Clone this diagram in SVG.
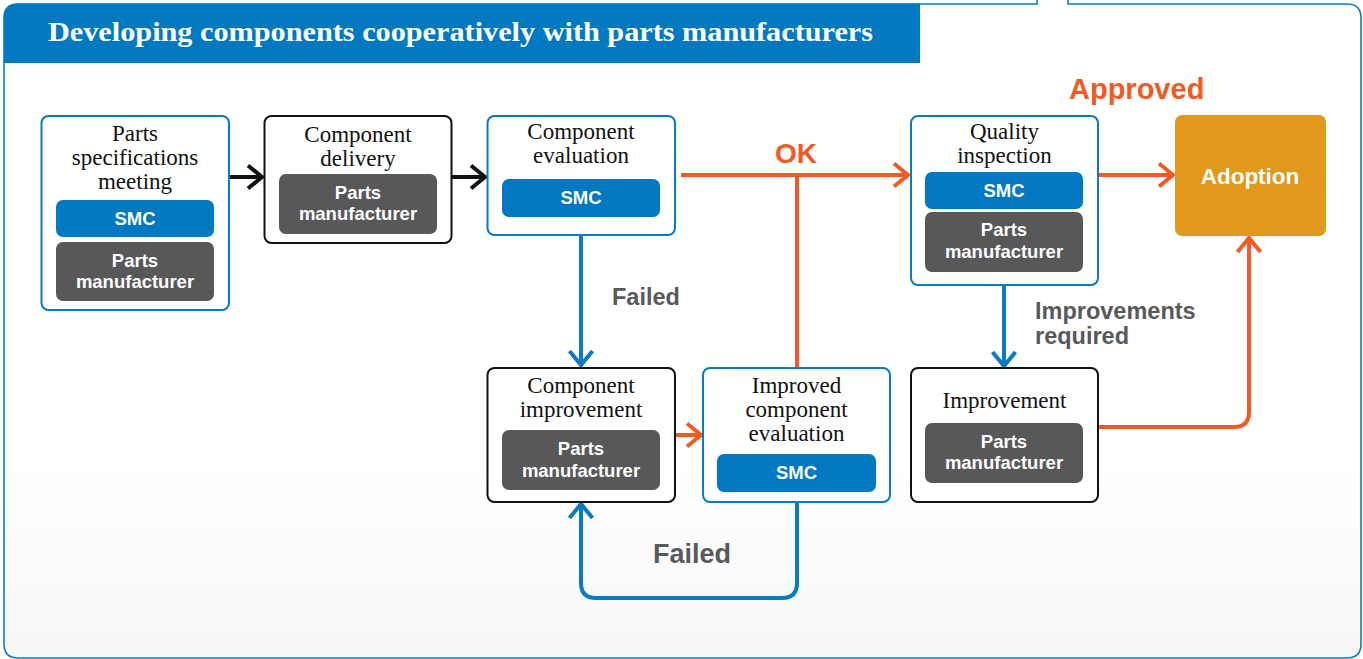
<svg xmlns="http://www.w3.org/2000/svg" width="1363" height="659" viewBox="0 0 1363 659">
  <defs>
    <linearGradient id="bg" x1="0" y1="0" x2="0" y2="1">
      <stop offset="0" stop-color="#ffffff"/>
      <stop offset="0.7" stop-color="#ffffff"/>
      <stop offset="1" stop-color="#f6f7f9"/>
    </linearGradient>
    <marker id="head-black" markerUnits="userSpaceOnUse" viewBox="0 0 20 28" markerWidth="20" markerHeight="28" refX="17" refY="14" orient="auto">
      <path d="M2,2.5 L16,14 L2,25.5" fill="none" stroke="#111111" stroke-width="4"/>
    </marker>
    <marker id="head-orange" markerUnits="userSpaceOnUse" viewBox="0 0 20 28" markerWidth="20" markerHeight="28" refX="17" refY="14" orient="auto">
      <path d="M2,2.5 L16,14 L2,25.5" fill="none" stroke="#f15a24" stroke-width="4"/>
    </marker>
    <marker id="head-blue" markerUnits="userSpaceOnUse" viewBox="0 0 20 28" markerWidth="20" markerHeight="28" refX="17" refY="14" orient="auto">
      <path d="M2,2.5 L16,14 L2,25.5" fill="none" stroke="#0a7bc2" stroke-width="4"/>
    </marker>
    <style>
      .box-blue { fill: #ffffff; stroke: #0a7bc2; stroke-width: 2; }
      .box-black { fill: #ffffff; stroke: #111111; stroke-width: 2; }
      .tag-smc { fill: #0079c2; }
      .tag-pm { fill: #58585a; }
      .title { font-family: "Liberation Serif", "Times New Roman", serif; font-size: 23px; fill: #111111; text-anchor: middle; }
      .tag { font-family: "Liberation Sans", Arial, sans-serif; font-weight: bold; font-size: 18.5px; fill: #ffffff; text-anchor: middle; }
      .tag-big { font-size: 22.5px; }
      .label-grey { font-family: "Liberation Sans", Arial, sans-serif; font-weight: bold; font-size: 23.5px; fill: #58595b; }
      .label-big { font-size: 27px; }
      .label-orange { font-family: "Liberation Sans", Arial, sans-serif; font-weight: bold; fill: #f15a24; }
      .link { fill: none; stroke-width: 4; }
      .link-black { stroke: #111111; marker-end: url(#head-black); }
      .link-orange { stroke: #f15a24; }
      .link-blue { stroke: #0a7bc2; }
    </style>
  </defs>

  <!-- panel frame with header band -->
  <path d="M18,4 H1347 Q1361,4 1361,18 V644 Q1361,658 1347,658 H18 Q4,658 4,644 V18 Q4,4 18,4 Z" fill="url(#bg)"/>
  <path d="M1037,0 V4 H18 Q4,4 4,18 V644 Q4,658 18,658 H1347 Q1361,658 1361,644 V18 Q1361,4 1347,4 H1068 V0" fill="none" stroke="#0a7bc2" stroke-width="1.6"/>
  <path d="M18,3.5 H920 V63 H4 V18 Q4,3.5 18,3.5 Z" fill="#0079c2"/>
  <text x="48" y="41" font-family="Liberation Serif, 'Times New Roman', serif" font-weight="bold" font-size="27" fill="#ffffff" textLength="825" lengthAdjust="spacingAndGlyphs">Developing components cooperatively with parts manufacturers</text>

  <!-- connectors -->
  <g id="connectors">
    <path class="link link-black" d="M229,177 H263"/>
    <path class="link link-black" d="M452,177 H486"/>
    <path class="link link-orange" d="M681,175 H909" marker-end="url(#head-orange)"/>
    <path class="link link-orange" d="M797,175 V367"/>
    <path class="link link-orange" d="M1098,175 H1174" marker-end="url(#head-orange)"/>
    <path class="link link-orange" d="M675,435 H702" marker-end="url(#head-orange)"/>
    <path class="link link-orange" d="M1098,427 H1234 Q1249,427 1249,412 V237" marker-end="url(#head-orange)"/>
    <path class="link link-blue" d="M581,235 V366" marker-end="url(#head-blue)"/>
    <path class="link link-blue" d="M1004,285 V367" marker-end="url(#head-blue)"/>
    <path class="link link-blue" d="M797,502 V583 Q797,598 782,598 H596 Q581,598 581,583 V503" marker-end="url(#head-blue)"/>
    <text class="label-orange" x="775" y="163" font-size="28">OK</text>
    <text class="label-orange" x="1069" y="99" font-size="29">Approved</text>
    <text class="label-grey" x="612" y="305">Failed</text>
    <text class="label-grey label-big" x="653" y="563">Failed</text>
    <text class="label-grey" x="1035" y="319">Improvements</text>
    <text class="label-grey" x="1035" y="344">required</text>
  </g>

  <!-- Parts specifications meeting -->
  <g id="node-spec-meeting">
    <rect class="box-blue" x="41.5" y="116" width="187.5" height="194" rx="7"/>
    <text class="title" x="135" y="141">Parts</text>
    <text class="title" x="135" y="165">specifications</text>
    <text class="title" x="135" y="189">meeting</text>
    <rect class="tag-smc" x="56" y="200" width="158" height="37" rx="7"/>
    <text class="tag" x="135" y="225">SMC</text>
    <rect class="tag-pm" x="56" y="242" width="158" height="59" rx="7"/>
    <text class="tag" x="135" y="267">Parts</text>
    <text class="tag" x="135" y="288">manufacturer</text>
  </g>

  <!-- Component delivery -->
  <g id="node-delivery">
    <rect class="box-black" x="264.5" y="116" width="187" height="127" rx="7"/>
    <text class="title" x="358" y="142">Component</text>
    <text class="title" x="358" y="166">delivery</text>
    <rect class="tag-pm" x="279" y="174" width="158" height="60" rx="7"/>
    <text class="tag" x="358" y="199">Parts</text>
    <text class="tag" x="358" y="220">manufacturer</text>
  </g>

  <!-- Component evaluation -->
  <g id="node-evaluation">
    <rect class="box-blue" x="487.5" y="116" width="187.5" height="119" rx="7"/>
    <text class="title" x="581" y="139">Component</text>
    <text class="title" x="581" y="163">evaluation</text>
    <rect class="tag-smc" x="502" y="179" width="158" height="38" rx="7"/>
    <text class="tag" x="581" y="204">SMC</text>
  </g>

  <!-- Quality inspection -->
  <g id="node-quality">
    <rect class="box-blue" x="911" y="116" width="187" height="169" rx="7"/>
    <text class="title" x="1004.5" y="139">Quality</text>
    <text class="title" x="1004.5" y="163">inspection</text>
    <rect class="tag-smc" x="925" y="172" width="158" height="37" rx="7"/>
    <text class="tag" x="1004" y="197">SMC</text>
    <rect class="tag-pm" x="925" y="212" width="158" height="60" rx="7"/>
    <text class="tag" x="1004" y="236">Parts</text>
    <text class="tag" x="1004" y="258">manufacturer</text>
  </g>

  <!-- Adoption -->
  <g id="node-adoption">
    <rect x="1175" y="115" width="151" height="121" rx="7" fill="#e2981b"/>
    <text class="tag tag-big" x="1250" y="184">Adoption</text>
  </g>

  <!-- Component improvement -->
  <g id="node-improvement">
    <rect class="box-black" x="487.5" y="368" width="187.5" height="134" rx="7"/>
    <text class="title" x="581" y="393">Component</text>
    <text class="title" x="581" y="417">improvement</text>
    <rect class="tag-pm" x="502" y="430" width="158" height="60" rx="7"/>
    <text class="tag" x="581" y="455">Parts</text>
    <text class="tag" x="581" y="477">manufacturer</text>
  </g>

  <!-- Improved component evaluation -->
  <g id="node-improved-evaluation">
    <rect class="box-blue" x="703" y="368" width="187" height="134" rx="7"/>
    <text class="title" x="796.5" y="393">Improved</text>
    <text class="title" x="796.5" y="417">component</text>
    <text class="title" x="796.5" y="441">evaluation</text>
    <rect class="tag-smc" x="717" y="454" width="159" height="38" rx="7"/>
    <text class="tag" x="796.5" y="479">SMC</text>
  </g>

  <!-- Improvement -->
  <g id="node-quality-improvement">
    <rect class="box-black" x="911" y="368" width="187" height="134" rx="7"/>
    <text class="title" x="1004.5" y="408">Improvement</text>
    <rect class="tag-pm" x="925" y="423" width="158" height="60" rx="7"/>
    <text class="tag" x="1004" y="448">Parts</text>
    <text class="tag" x="1004" y="469">manufacturer</text>
  </g>
</svg>
